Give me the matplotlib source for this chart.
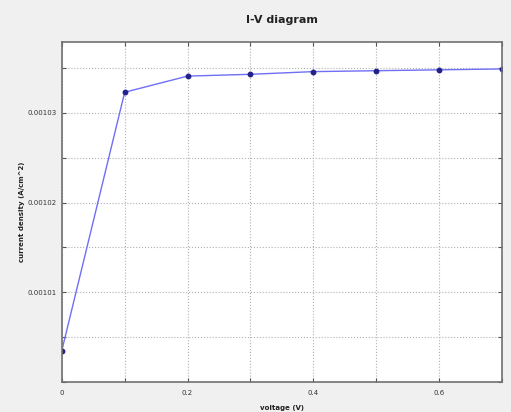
import numpy as np
import matplotlib
matplotlib.use("Agg")
import matplotlib.pyplot as plt

# measured I-V points
voltage = [0.0, 0.1, 0.2, 0.3, 0.4, 0.5, 0.6, 0.7]
current_density = [0.0010035, 0.0010323, 0.0010341, 0.0010343,
                   0.0010346, 0.0010347, 0.0010348, 0.0010349]

x_ticks = [0.0, 0.1, 0.2, 0.3, 0.4, 0.5, 0.6, 0.7]
x_labels = ["0", "", "0.2", "", "0.4", "", "0.6", ""]
y_ticks = [0.001, 0.001005, 0.00101, 0.001015, 0.00102, 0.001025, 0.00103, 0.001035]
y_labels = ["", "", "0.00101", "", "0.00102", "", "0.00103", ""]

fig = plt.figure(figsize=(5.11, 4.12), dpi=100, facecolor="#f0f0f0")
ax = fig.add_axes([0.121, 0.073, 0.861, 0.825])
ax.set_facecolor("white")

ax.plot(voltage, current_density, color="#6f6ff5", linewidth=1.0,
        marker="o", markersize=3.2, markerfacecolor="#22228a",
        markeredgecolor="#22228a")

ax.set_xlim(0, 0.7)
ax.set_ylim(0.001, 0.0010379)
ax.set_xticks(x_ticks)
ax.set_xticklabels(x_labels)
ax.set_yticks(y_ticks)
ax.set_yticklabels(y_labels)
ax.tick_params(direction="in", labelsize=5, length=3, color="#555555",
               labelcolor="#333333", top=True, right=True)
ax.tick_params(axis="x", pad=6)
ax.grid(True, linestyle=":", color="#b0b0b0", linewidth=0.8)

for spine in ax.spines.values():
    spine.set_color("#707070")
    spine.set_linewidth(1.2)

ax.set_title("I-V diagram", fontsize=8, fontweight="bold", color="#222222", pad=14)
ax.set_xlabel("voltage (V)", fontsize=5, fontweight="bold", color="#222222", labelpad=6)
ax.set_ylabel("current density (A/cm^2)", fontsize=5, fontweight="bold",
              color="#222222", labelpad=2)

fig.savefig("out.png", dpi=100, facecolor=fig.get_facecolor())
